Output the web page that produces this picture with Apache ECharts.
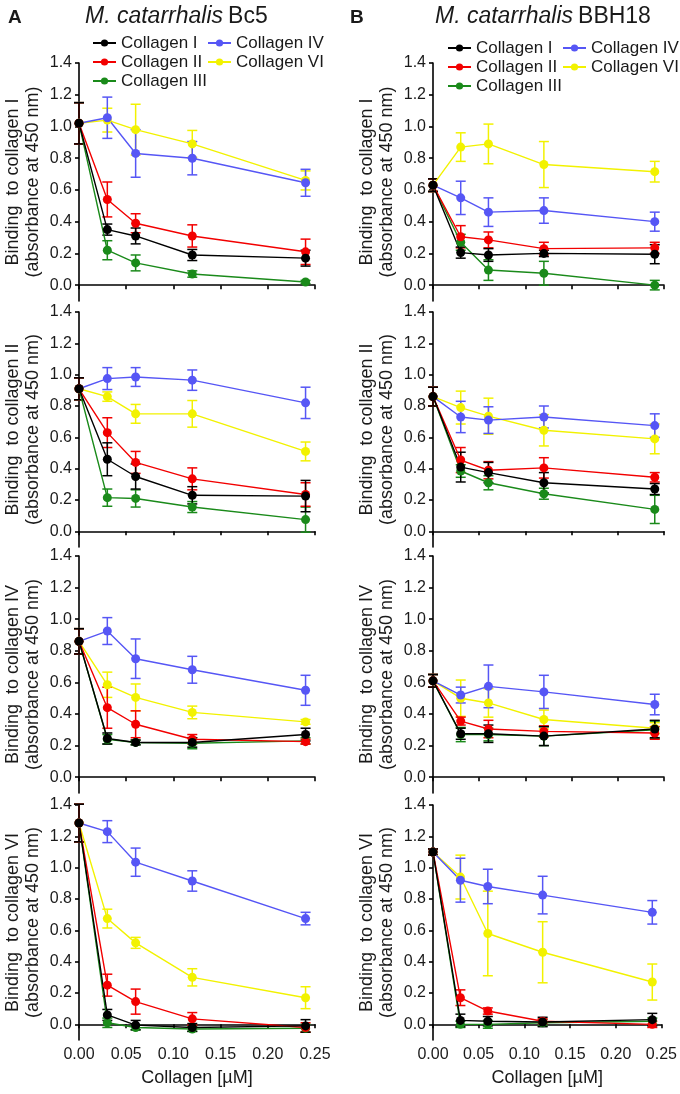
<!DOCTYPE html>
<html><head><meta charset="utf-8">
<script src="https://cdn.jsdelivr.net/npm/echarts@6/dist/echarts.min.js"></script>
<style>html,body{margin:0;padding:0;background:#fff}#c{width:680px;height:1094px}</style>
</head><body><div id="c"></div>
<script>
// ---- data ----
const doses = [0, 0.03, 0.06, 0.12, 0.24];
const seriesNames = ['Collagen I', 'Collagen II', 'Collagen III', 'Collagen IV', 'Collagen VI'];
const xTicks = [0, 0.05, 0.10, 0.15, 0.20, 0.25];
const yTicks = [0, 0.2, 0.4, 0.6, 0.8, 1.0, 1.2, 1.4];
const yTitles = ['Binding  to collagen I', 'Binding  to collagen II', 'Binding  to collagen IV', 'Binding  to collagen VI'];
const strainTitles = ['Bc5', 'BBH18'];

// Bc5 panels (rows: Collagen I, II, III, IV, VI)
const bc5_c1_mean = [[1.02,0.35,0.31,0.19,0.17],[1.02,0.54,0.39,0.31,0.21],[1.02,0.22,0.14,0.07,0.02],[1.02,1.055,0.83,0.80,0.645],[1.02,1.04,0.98,0.89,0.66]];
const bc5_c1_err  = [[0.13,0.035,0.05,0.035,0.05],[0.13,0.11,0.06,0.07,0.08],[0.13,0.06,0.05,0.02,0.01],[0.13,0.13,0.15,0.105,0.085],[0.13,0.075,0.16,0.085,0.06]];
const bc5_c2_mean = [[0.91,0.46,0.35,0.23,0.225],[0.91,0.63,0.44,0.335,0.235],[0.91,0.215,0.21,0.155,0.075],[0.91,0.975,0.985,0.965,0.82],[0.91,0.86,0.75,0.75,0.51]];
const bc5_c2_err  = [[0.07,0.105,0.08,0.055,0.10],[0.07,0.095,0.07,0.07,0.075],[0.07,0.055,0.055,0.035,0.08],[0.07,0.07,0.06,0.065,0.10],[0.07,0.03,0.06,0.085,0.06]];
const bc5_c4_mean = [[0.86,0.245,0.22,0.22,0.27],[0.86,0.44,0.335,0.24,0.225],[0.86,0.24,0.22,0.215,0.23],[0.86,0.925,0.75,0.68,0.55],[0.86,0.585,0.505,0.41,0.35]];
const bc5_c4_err  = [[0.08,0.035,0.015,0.03,0.04],[0.08,0.13,0.085,0.03,0.015],[0.08,0.03,0.015,0.035,0.02],[0.08,0.085,0.125,0.085,0.095],[0.08,0.08,0.085,0.04,0.015]];
const bc5_c6_mean = [[1.285,0.06,-0.005,-0.02,-0.01],[1.285,0.25,0.145,0.035,-0.02],[1.285,0.01,-0.02,-0.03,-0.025],[1.285,1.23,1.035,0.915,0.675],[1.285,0.675,0.52,0.30,0.17]];
const bc5_c6_err  = [[0.12,0.035,0.03,0.025,0.04],[0.12,0.07,0.08,0.04,0.03],[0.12,0.03,0.015,0.015,0.025],[0.12,0.07,0.09,0.065,0.04],[0.12,0.06,0.035,0.055,0.07]];
// BBH18 panels
const bbh_c1_mean = [[0.63,0.205,0.19,0.20,0.195],[0.63,0.305,0.285,0.23,0.235],[0.63,0.27,0.095,0.075,0.00],[0.63,0.55,0.46,0.47,0.40],[0.63,0.87,0.89,0.76,0.715]];
const bbh_c1_err  = [[0.04,0.035,0.04,0.02,0.06],[0.04,0.07,0.05,0.04,0.035],[0.04,0.05,0.065,0.075,0.03],[0.04,0.105,0.09,0.08,0.06],[0.04,0.09,0.125,0.145,0.065]];
const bbh_c2_mean = [[0.86,0.41,0.375,0.31,0.27],[0.86,0.455,0.39,0.405,0.345],[0.86,0.385,0.31,0.24,0.14],[0.86,0.73,0.71,0.73,0.675],[0.86,0.79,0.735,0.645,0.59]];
const bbh_c2_err  = [[0.06,0.095,0.065,0.065,0.035],[0.06,0.08,0.055,0.065,0.03],[0.06,0.04,0.045,0.035,0.09],[0.06,0.10,0.085,0.07,0.075],[0.06,0.105,0.115,0.10,0.095]];
const bbh_c4_mean = [[0.61,0.275,0.275,0.26,0.305],[0.61,0.355,0.305,0.29,0.28],[0.61,0.27,0.27,0.26,0.30],[0.61,0.52,0.575,0.54,0.46],[0.61,0.50,0.47,0.365,0.31]];
const bbh_c4_err  = [[0.04,0.035,0.055,0.06,0.055],[0.04,0.025,0.055,0.035,0.04],[0.04,0.045,0.04,0.06,0.055],[0.04,0.05,0.135,0.105,0.065],[0.04,0.115,0.09,0.06,0.035]];
const bbh_c6_mean = [[1.10,0.025,0.02,0.015,0.03],[1.10,0.17,0.085,0.02,0.00],[1.10,0.00,0.00,0.01,0.02],[1.10,0.92,0.88,0.825,0.715],[1.10,0.94,0.58,0.46,0.27]];
const bbh_c6_err  = [[0.02,0.04,0.03,0.03,0.04],[0.02,0.05,0.02,0.015,0.02],[0.02,0.02,0.025,0.02,0.02],[0.02,0.14,0.11,0.12,0.075],[0.02,0.14,0.27,0.195,0.115]];

// ---- style ----
const colors = ['#000000', '#f20000', '#1a8a1a', '#5656f5', '#f2f200'];
const drawOrder = [4, 3, 2, 1, 0];
const FONT = '"Liberation Sans", Arial, sans-serif';
const TXT = '#1a1a1a';

const panels = [
  [bc5_c1_mean, bc5_c1_err], [bc5_c2_mean, bc5_c2_err], [bc5_c4_mean, bc5_c4_err], [bc5_c6_mean, bc5_c6_err],
  [bbh_c1_mean, bbh_c1_err], [bbh_c2_mean, bbh_c2_err], [bbh_c4_mean, bbh_c4_err], [bbh_c6_mean, bbh_c6_err]
];
const colLeft = [79, 433], colWidth = [236, 231];
const rowTop = [63, 312, 556, 805], rowH = [238, 235, 237, 235];

const grid = [], xAxis = [], yAxis = [], series = [];
panels.forEach((p, idx) => {
  const col = Math.floor(idx / 4), row = idx % 4;
  grid.push({ left: colLeft[col], top: rowTop[row], width: colWidth[col], height: rowH[row], containLabel: false });
  const bottom = row === 3;
  xAxis.push({
    type: 'value', gridIndex: idx, min: 0, max: 0.25, interval: 0.05,
    axisLine: { lineStyle: { color: '#000', width: 1.6 } },
    axisTick: { show: true, length: 4, lineStyle: { color: '#000', width: 1.6 } },
    axisLabel: { show: bottom, fontSize: 16, color: TXT, fontFamily: FONT, margin: 7,
      formatter: v => v.toFixed(2) },
    splitLine: { show: false },
    name: bottom ? 'Collagen [µM]' : '', nameLocation: 'middle', nameGap: 29,
    nameTextStyle: { fontSize: 18, color: TXT, fontFamily: FONT }
  });
  yAxis.push({
    type: 'value', gridIndex: idx, min: -0.1, max: 1.4,
    axisLine: { show: true, lineStyle: { color: '#000', width: 1.6 } },
    axisTick: { show: true, length: 4, customValues: yTicks, lineStyle: { color: '#000', width: 1.6 } },
    axisLabel: { fontSize: 16, color: TXT, fontFamily: FONT, margin: 7, customValues: yTicks,
      formatter: v => v.toFixed(1) },
    splitLine: { show: false },
    name: yTitles[row] + '\n(absorbance at 450 nm)', nameLocation: 'middle', nameRotate: 90, nameGap: 36,
    nameTextStyle: { fontSize: 18, color: TXT, fontFamily: FONT, lineHeight: 20 }
  });
  const [means, errs] = p;
  drawOrder.forEach(s => {
    const c = colors[s];
    series.push({
      type: 'custom', name: 'err' + s, xAxisIndex: idx, yAxisIndex: idx, silent: true, z: 2,
      data: doses.map((d, i) => [d, means[s][i] - errs[s][i], means[s][i] + errs[s][i]]),
      renderItem: (params, api) => {
        const x = api.value(0);
        const lo = api.coord([x, api.value(1)]);
        const hi = api.coord([x, api.value(2)]);
        const w = 5, st = { stroke: c, lineWidth: 1.5 };
        return { type: 'group', children: [
          { type: 'line', shape: { x1: hi[0], y1: hi[1], x2: lo[0], y2: lo[1] }, style: st },
          { type: 'line', shape: { x1: hi[0] - w, y1: hi[1], x2: hi[0] + w, y2: hi[1] }, style: st },
          { type: 'line', shape: { x1: lo[0] - w, y1: lo[1], x2: lo[0] + w, y2: lo[1] }, style: st }
        ]};
      }
    });
    series.push({
      type: 'line', name: seriesNames[s], xAxisIndex: idx, yAxisIndex: idx, z: 3,
      data: doses.map((d, i) => [d, means[s][i]]),
      symbol: 'circle', symbolSize: 9, showSymbol: true,
      itemStyle: { color: c }, lineStyle: { color: c, width: 1.4 },
      emphasis: { disabled: true }, animation: false
    });
  });
});

const legendBase = {
  orient: 'vertical', itemWidth: 23, itemHeight: 9, itemGap: 1, padding: 0,
  textStyle: { fontSize: 17, color: TXT, fontFamily: FONT, lineHeight: 18 },
  selectedMode: false
};
const legend = [
  Object.assign({}, legendBase, { left: 92, top: 34, data: seriesNames.slice(0, 3) }),
  Object.assign({}, legendBase, { left: 207, top: 34, data: seriesNames.slice(3) }),
  Object.assign({}, legendBase, { left: 447, top: 39, data: seriesNames.slice(0, 3) }),
  Object.assign({}, legendBase, { left: 562, top: 39, data: seriesNames.slice(3) })
];

const titleRich = { i: { fontStyle: 'italic', fontWeight: 'normal', fontSize: 23, fontFamily: FONT, color: TXT }, n: { fontWeight: 'normal', fontSize: 23, fontFamily: FONT, color: TXT } };
const title = [
  { text: 'A', left: 3, top: 3, textStyle: { fontSize: 19, fontWeight: 'bold', fontFamily: FONT, color: TXT } },
  { text: '{i|M. catarrhalis} {n|' + strainTitles[0] + '}', left: 80, top: 0, textStyle: { fontWeight: 'normal', rich: titleRich } },
  { text: 'B', left: 345, top: 3, textStyle: { fontSize: 19, fontWeight: 'bold', fontFamily: FONT, color: TXT } },
  { text: '{i|M. catarrhalis} {n|' + strainTitles[1] + '}', left: 430, top: 0, textStyle: { fontWeight: 'normal', rich: titleRich } }
];

const chart = echarts.init(document.getElementById('c'), null, { renderer: 'canvas' });
chart.setOption({ animation: false, backgroundColor: '#fff', title, legend, grid, xAxis, yAxis, series });
</script></body></html>
